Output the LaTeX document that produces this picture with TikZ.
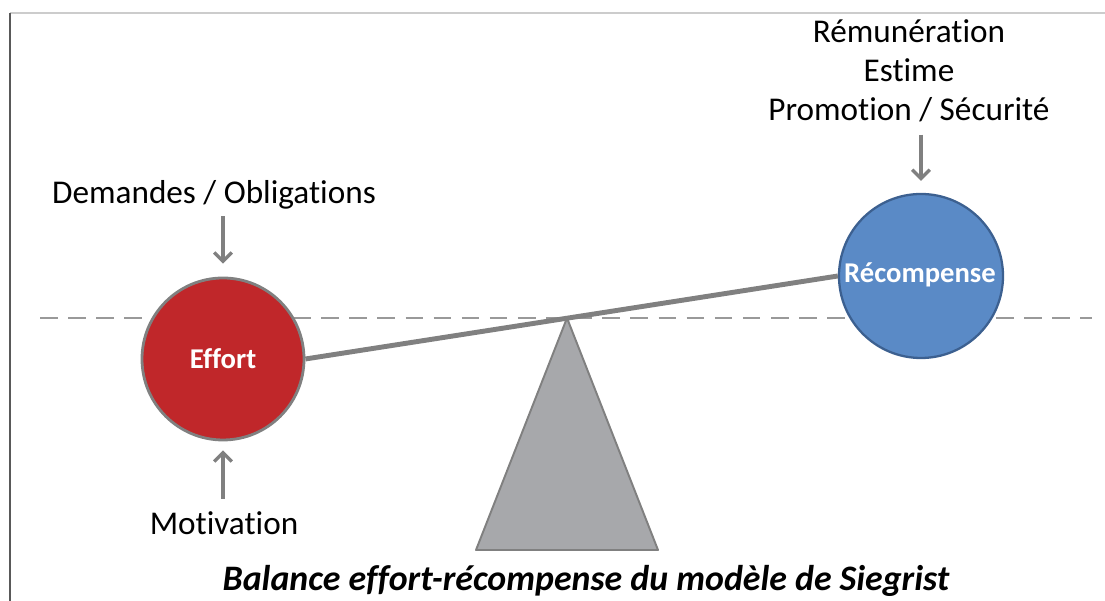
\documentclass[tikz,border=0pt]{standalone}
\usepackage{fontspec}
\setmainfont{Carlito}[Ligatures=NoCommon]
\usepackage{tikz}
\usetikzlibrary{arrows.meta}
\definecolor{effortred}{HTML}{C0272A}
\definecolor{rewardblue}{HTML}{5A8AC6}
\definecolor{rewardedge}{HTML}{3C6090}
\definecolor{beamgray}{HTML}{808080}
\definecolor{basegray}{HTML}{A7A8AB}

\begin{document}
\begin{tikzpicture}[
    weight/.style={circle,inner sep=0pt,line width=1.1pt,text=white,
      font=\fontsize{16.3}{19}\selectfont\bfseries},
    label/.style={inner sep=0pt,font=\fontsize{18.9}{22.1}\selectfont},
    push/.style={-{Straight Barb[length=5pt,width=10pt]},beamgray,line width=1.9pt}
  ]
    \useasboundingbox (0,0) rectangle (22.1,12.02);
    \draw[gray!40,line width=0.6pt] (0.2,11.76) -- (22.1,11.76);
    \draw[gray!130,line width=1.1pt] (0.2,11.76) -- (0.2,0);
    \draw[gray!80,line width=1.1pt,dash pattern=on 10pt off 6pt] (0.8,5.66) -- (21.84,5.66);

    \node[weight,fill=effortred,draw=beamgray,line width=1.6pt,minimum size=3.24cm] (effort) at (4.46,4.84) {Effort};
    \node[weight,fill=rewardblue,draw=rewardedge,line width=1.3pt,minimum size=3.28cm] (reward) at (18.42,6.50) {};
    \node[weight] (rewardtext) at (18.40,6.52) {Récompense};

    \coordinate (pivot) at (11.34,5.66);
    \coordinate (baseL) at (9.52,1.02);
    \coordinate (baseR) at (13.16,1.02);
    \filldraw[fill=basegray,draw=beamgray,line width=1.1pt,line join=round] (pivot) -- (baseL) -- (baseR) -- cycle;
    \draw[beamgray,line width=2.8pt] (effort.east) -- (reward.west);

    \node[label,anchor=base] (demands) at (4.28,7.94) {Demandes / Obligations};
    \node[label,anchor=base] (motivation) at (4.48,1.32) {Motivation};
    \node[label,anchor=base] (pay) at (18.18,11.16) {Rémunération};
    \node[label,anchor=base] (esteem) at (18.18,10.38) {Estime};
    \node[label,anchor=base] (promo) at (18.18,9.60) {Promotion / Sécurité};

    \draw[push,shorten <=0.12cm,shorten >=0.26cm] (effort.north |- demands.south) -- (effort.north);
    \draw[push,shorten <=0.26cm,shorten >=0.18cm] (effort.south |- motivation.north) -- (effort.south);
    \draw[push,shorten <=0.24cm,shorten >=0.24cm] (reward.north |- promo.south) -- (reward.north);

    \node[inner sep=0pt,anchor=base,font=\fontsize{20.4}{24}\selectfont\bfseries\itshape] (caption) at (11.72,0.2)
      {Balance effort-récompense du modèle de Siegrist};
  \end{tikzpicture}
\end{document}
